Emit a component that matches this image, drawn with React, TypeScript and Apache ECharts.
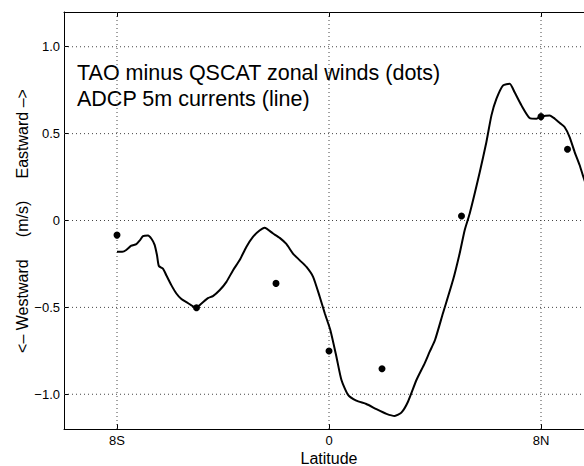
import React, { useEffect, useRef } from "react";
import * as echarts from "echarts";

const FONT = "'Liberation Sans', Arial, Helvetica, sans-serif";

// ADCP 5m currents (line)
const lineLat = [
  -8, -7.8, -7.65, -7.46, -7.27, -7.14, -7.02, -6.83, -6.7, -6.58, -6.49, -6.42, -6.26, -6.14,
  -5.95, -5.76, -5.57, -5.38, -5.19, -5.03, -4.82, -4.57, -4.38, -4.12, -3.87, -3.62, -3.37,
  -3.12, -2.87, -2.62, -2.43, -2.11, -1.86, -1.61, -1.36, -1.11, -0.85, -0.6, -0.35, -0.16,
  0.05, 0.28, 0.47, 0.72, 1.03, 1.41, 1.79, 2.17, 2.48, 2.73, 2.98, 3.3, 3.61, 3.8, 4.0, 4.3,
  4.68, 4.93, 5.12, 5.31, 5.69, 5.94, 6.13, 6.32, 6.57, 6.82, 7.0, 7.26, 7.57, 7.83, 8.02,
  8.33, 8.52, 8.71, 8.89, 9.08, 9.27, 9.46, 9.58, 9.8,
];
const lineVel = [
  -0.18, -0.18, -0.17, -0.145, -0.136, -0.115, -0.09, -0.086, -0.105, -0.14, -0.2, -0.262,
  -0.278, -0.315, -0.372, -0.42, -0.452, -0.47, -0.488, -0.503, -0.479, -0.447, -0.435, -0.4,
  -0.353, -0.286, -0.228, -0.152, -0.094, -0.058, -0.042, -0.075, -0.1, -0.135, -0.19, -0.228,
  -0.267, -0.324, -0.439, -0.534, -0.63, -0.784, -0.918, -1.004, -1.037, -1.056, -1.086,
  -1.113, -1.125, -1.106, -1.043, -0.918, -0.822, -0.755, -0.688, -0.534, -0.343, -0.19,
  -0.056, 0.04, 0.279, 0.452, 0.605, 0.701, 0.778, 0.787, 0.739, 0.663, 0.59, 0.586, 0.599,
  0.605, 0.586, 0.561, 0.538, 0.48, 0.394, 0.318, 0.26, 0.16,
];

// TAO minus QSCAT zonal winds (dots)
const dotLat = [-8, -5, -2, 0, 2, 5, 8, 9];
const dotVel = [-0.084, -0.502, -0.362, -0.751, -0.853, 0.026, 0.598, 0.41];

const xTicks = [-8, 0, 8];
const yTicks = [-1, -0.5, 0, 0.5, 1];
const xRange = [-10, 10];
const yRange = [-1.2, 1.2];

const annotationLines = ["TAO minus QSCAT zonal winds (dots)", "ADCP 5m currents (line)"];
const yAxisTitle = "<\u2013 Westward\u00a0\u00a0\u00a0\u00a0\u00a0(m/s)\u00a0\u00a0\u00a0\u00a0\u00a0Eastward \u2013>";
const xAxisTitle = "Latitude";

const fmtLat = (v: number) => (v < 0 ? `${-v}S` : v > 0 ? `${v}N` : "0");
const fmtVel = (v: number) => (v === 0 ? "0" : v.toFixed(1).replace("-", "\u2212"));

export default function App() {
  const ref = useRef<HTMLDivElement>(null);
  useEffect(() => {
    if (!ref.current) return;
    const chart = echarts.init(ref.current, undefined, { renderer: "svg" });
    const grid = { left: 64, top: 12, right: 0, bottom: 37 };
    const axisLine = { show: true, onZero: false, lineStyle: { color: "#000", width: 1 } };
    const tickX = { show: true, inside: true, length: 5, customValues: xTicks, lineStyle: { color: "#000", width: 1 } };
    const tickY = { show: true, inside: true, length: 5, customValues: yTicks, lineStyle: { color: "#000", width: 1 } };
    const gridSeries = [
      ...xTicks.map((v) => [[v, yRange[0]], [v, yRange[1]]]),
      ...yTicks.map((v) => [[xRange[0], v], [xRange[1], v]]),
    ].map((data) => ({
      type: "line",
      data,
      showSymbol: false,
      silent: true,
      z: 1,
      lineStyle: { color: "#444", width: 1, type: [1, 3] },
      emphasis: { disabled: true },
    }));
    chart.setOption({
      animation: false,
      backgroundColor: "#fff",
      grid,
      xAxis: [
        {
          type: "value", min: xRange[0], max: xRange[1], position: "bottom",
          axisLine, axisTick: tickX, splitLine: { show: false },
          axisLabel: { customValues: xTicks, formatter: fmtLat, color: "#000", fontSize: 13, margin: 5, fontFamily: FONT },
        },
        {
          type: "value", min: xRange[0], max: xRange[1], position: "top",
          axisLine, axisTick: tickX, splitLine: { show: false }, axisLabel: { show: false },
        },
      ],
      yAxis: [
        {
          type: "value", min: yRange[0], max: yRange[1], position: "left",
          axisLine, axisTick: tickY, splitLine: { show: false },
          axisLabel: { customValues: yTicks, formatter: fmtVel, color: "#000", fontSize: 13, margin: 4, fontFamily: FONT },
        },
        {
          type: "value", min: yRange[0], max: yRange[1], position: "right",
          axisLine, axisTick: tickY, splitLine: { show: false }, axisLabel: { show: false },
        },
      ],
      series: [
        ...gridSeries,
        {
          type: "line",
          data: lineLat.map((x, i) => [x, lineVel[i]]),
          showSymbol: false,
          lineStyle: { color: "#000", width: 2 },
          smooth: 0.2,
          silent: true,
          z: 3,
        },
        {
          type: "scatter",
          data: dotLat.map((x, i) => [x, dotVel[i]]),
          symbolSize: 7,
          itemStyle: { color: "#000", opacity: 1 },
          z: 4,
        },
      ],
      graphic: [
        ...annotationLines.map((t, i) => ({
          type: "text", x: 77, y: 72.5 + i * 26.5,
          style: { text: t, fill: "#000", font: `21.5px ${FONT}`, align: "left", verticalAlign: "middle" },
        })),
        {
          type: "text", x: 22, y: 221, rotation: Math.PI / 2,
          style: { text: yAxisTitle, fill: "#000", font: `16px ${FONT}`, align: "center", verticalAlign: "middle" },
        },
        {
          type: "text", x: 329, y: 458,
          style: { text: xAxisTitle, fill: "#000", font: `16px ${FONT}`, align: "center", verticalAlign: "middle" },
        },
      ],
    });
    return () => chart.dispose();
  }, []);
  return <div ref={ref} style={{ position: "fixed", left: 0, top: 0, width: 594, height: 466 }} />;
}
